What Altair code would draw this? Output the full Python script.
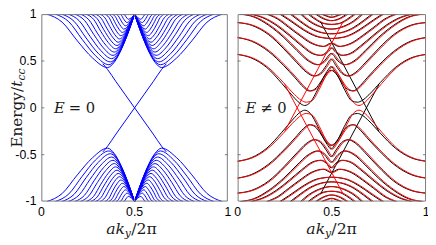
import altair as alt
import pandas as pd

# ---------------- data ----------------
# Left panel (E = 0): bands of the upper-left lobe (the other three lobes are its mirror images)
LB_X = [
    [0.03, 0.111, 0.193, 0.274, 0.355, 0.391, 0.428, 0.464, 0.5],
    [0.075, 0.147, 0.219, 0.29, 0.362, 0.397, 0.431, 0.466, 0.5],
    [0.11, 0.175, 0.24, 0.305, 0.37, 0.403, 0.435, 0.468, 0.5],
    [0.145, 0.203, 0.261, 0.319, 0.377, 0.408, 0.439, 0.469, 0.5],
    [0.18, 0.231, 0.282, 0.333, 0.384, 0.413, 0.442, 0.471, 0.5],
    [0.21, 0.255, 0.30, 0.346, 0.391, 0.418, 0.446, 0.473, 0.5],
    [0.24, 0.28, 0.319, 0.359, 0.398, 0.424, 0.449, 0.475, 0.5],
    [0.265, 0.30, 0.335, 0.37, 0.405, 0.429, 0.453, 0.476, 0.5],
    [0.29, 0.321, 0.351, 0.382, 0.412, 0.434, 0.456, 0.478, 0.5],
    [0.315, 0.341, 0.367, 0.393, 0.419, 0.439, 0.46, 0.48, 0.5],
    [0.34, 0.362, 0.383, 0.405, 0.426, 0.445, 0.463, 0.482, 0.5],
    [0.36, 0.379, 0.397, 0.416, 0.434, 0.451, 0.467, 0.484, 0.5],
    [0.38, 0.396, 0.411, 0.427, 0.442, 0.457, 0.471, 0.486, 0.5],
    [0.40, 0.413, 0.425, 0.438, 0.45, 0.463, 0.475, 0.488, 0.5],
    [0.42, 0.43, 0.439, 0.449, 0.458, 0.469, 0.479, 0.49, 0.5],
    [0.44, 0.447, 0.453, 0.46, 0.466, 0.475, 0.483, 0.492, 0.5],
]
LB_E = [
    [1, 0.915, 0.715, 0.533, 0.43, 0.487, 0.618, 0.795, 1],
    [1, 0.919, 0.73, 0.557, 0.46, 0.514, 0.638, 0.806, 1],
    [1, 0.924, 0.745, 0.582, 0.49, 0.541, 0.658, 0.816, 1],
    [1, 0.929, 0.763, 0.611, 0.525, 0.573, 0.682, 0.829, 1],
    [1, 0.934, 0.78, 0.639, 0.56, 0.604, 0.705, 0.842, 1],
    [1, 0.939, 0.798, 0.668, 0.595, 0.636, 0.729, 0.854, 1],
    [1, 0.945, 0.815, 0.697, 0.63, 0.667, 0.752, 0.867, 1],
    [1, 0.95, 0.833, 0.725, 0.665, 0.699, 0.776, 0.879, 1],
    [1, 0.955, 0.85, 0.754, 0.70, 0.73, 0.799, 0.892, 1],
    [1, 0.96, 0.868, 0.783, 0.735, 0.762, 0.822, 0.905, 1],
    [1, 0.966, 0.885, 0.811, 0.77, 0.793, 0.846, 0.917, 1],
    [1, 0.971, 0.903, 0.84, 0.805, 0.825, 0.869, 0.93, 1],
    [1, 0.976, 0.92, 0.869, 0.84, 0.856, 0.893, 0.942, 1],
    [1, 0.981, 0.938, 0.898, 0.875, 0.888, 0.916, 0.955, 1],
    [1, 0.987, 0.955, 0.926, 0.91, 0.919, 0.94, 0.968, 1],
    [1, 0.992, 0.973, 0.955, 0.945, 0.951, 0.963, 0.98, 1],
]
# left panel edge state (the second one is its mirror)
LE_X = [0.33, 0.355, 0.4, 0.45, 0.5, 0.55, 0.6, 0.645, 0.67]
LE_E = [0.47, 0.41, 0.28, 0.14, 0.0, -0.14, -0.28, -0.41, -0.47]

# Right panel (E != 0): black upper bands (lower = E mirror, red = k mirror)
RB_X = [
    [0, 0.075, 0.155, 0.235, 0.295, 0.33, 0.356, 0.386, 0.426, 0.461, 0.496,
     0.531, 0.566, 0.606, 0.636, 0.662, 0.697, 0.757, 0.837, 0.917, 1],
    [0, 0.075, 0.165, 0.245, 0.305, 0.35, 0.38, 0.41, 0.445, 0.475, 0.496,
     0.517, 0.547, 0.582, 0.612, 0.642, 0.687, 0.747, 0.827, 0.917, 1],
    [0, 0.075, 0.165, 0.245, 0.315, 0.365, 0.405, 0.44, 0.47, 0.496,
     0.522, 0.552, 0.587, 0.627, 0.677, 0.747, 0.827, 0.917, 1],
    [0.014, 0.085, 0.165, 0.245, 0.315, 0.375, 0.425, 0.46, 0.496,
     0.532, 0.567, 0.617, 0.677, 0.747, 0.827, 0.907, 0.978],
    [0.07, 0.135, 0.205, 0.275, 0.34, 0.395, 0.44, 0.47, 0.496,
     0.522, 0.552, 0.597, 0.652, 0.717, 0.787, 0.857, 0.922],
    [0.154, 0.21, 0.27, 0.33, 0.39, 0.455, 0.496, 0.537, 0.602, 0.662, 0.722, 0.782, 0.838],
    [0.224, 0.27, 0.32, 0.375, 0.43, 0.496, 0.562, 0.617, 0.672, 0.722, 0.768],
    [0.279, 0.325, 0.375, 0.43, 0.496, 0.562, 0.617, 0.667, 0.713],
    [0.334, 0.375, 0.43, 0.496, 0.562, 0.617, 0.658],
    [0.374, 0.415, 0.455, 0.496, 0.537, 0.577, 0.618],
    [0.414, 0.445, 0.496, 0.547, 0.578],
    [0.444, 0.47, 0.496, 0.522, 0.548],
]
RB_E = [
    [0.57, 0.53, 0.43, 0.26, 0.12, 0.05, 0.025, 0.06, 0.2, 0.34, 0.40,
     0.34, 0.2, 0.075, 0.06, 0.08, 0.14, 0.27, 0.43, 0.53, 0.57],
    [0.75, 0.71, 0.6, 0.45, 0.32, 0.22, 0.18, 0.2, 0.29, 0.39, 0.44,
     0.39, 0.29, 0.2, 0.18, 0.22, 0.32, 0.45, 0.6, 0.71, 0.75],
    [0.91, 0.88, 0.78, 0.63, 0.48, 0.38, 0.34, 0.37, 0.45, 0.52,
     0.45, 0.37, 0.34, 0.38, 0.48, 0.63, 0.78, 0.88, 0.91],
    [1.0, 0.97, 0.88, 0.75, 0.61, 0.5, 0.46, 0.5, 0.58,
     0.5, 0.46, 0.5, 0.61, 0.75, 0.88, 0.97, 1.0],
    [1.0, 0.96, 0.88, 0.77, 0.66, 0.58, 0.56, 0.59, 0.64,
     0.59, 0.56, 0.58, 0.66, 0.77, 0.88, 0.96, 1.0],
    [1.0, 0.95, 0.86, 0.77, 0.69, 0.655, 0.69, 0.655, 0.69, 0.77, 0.86, 0.95, 1.0],
    [1.0, 0.94, 0.87, 0.8, 0.755, 0.74, 0.755, 0.8, 0.87, 0.94, 1.0],
    [1.0, 0.93, 0.86, 0.81, 0.79, 0.81, 0.86, 0.93, 1.0],
    [1.0, 0.93, 0.87, 0.84, 0.87, 0.93, 1.0],
    [1.0, 0.94, 0.9, 0.89, 0.9, 0.94, 1.0],
    [1.0, 0.96, 0.93, 0.96, 1.0],
    [1.0, 0.98, 0.965, 0.98, 1.0],
]
# black edge state line (the other lines are its mirrors)
RE_X = [0.44, 0.75]
RE_E = [0.92, -0.25]

X_TICKS = [0, 0.5, 1]
X_LABELS = ["0", "0.5", "1"]
Y_TICKS = [-1, -0.5, 0, 0.5, 1]
Y_LABELS = ["-1", "-0.5", "0", "0.5", "1"]

# ---------------- tables ----------------
left_rows = []
for i, (xs, es) in enumerate(zip(LB_X, LB_E)):
    for x, e in zip(xs, es):
        left_rows += [dict(sid=f"a{i}", x=x, E=e), dict(sid=f"b{i}", x=1 - x, E=e),
                      dict(sid=f"c{i}", x=x, E=-e), dict(sid=f"d{i}", x=1 - x, E=-e)]
for x, e in zip(LE_X, LE_E):
    left_rows += [dict(sid="e0", x=x, E=e), dict(sid="e1", x=1 - x, E=e)]
left_df = pd.DataFrame(left_rows)

black_rows, red_rows = [], []
for i, (xs, es) in enumerate(zip(RB_X + [RE_X], RB_E + [RE_E])):
    for x, e in zip(xs, es):
        black_rows += [dict(sid=f"u{i}", x=x, E=e), dict(sid=f"l{i}", x=x, E=-e)]
        red_rows += [dict(sid=f"u{i}", x=1 - x, E=e), dict(sid=f"l{i}", x=1 - x, E=-e)]
black_df = pd.DataFrame(black_rows)
red_df = pd.DataFrame(red_rows)

xt_df = pd.DataFrame({"v": X_TICKS, "lab": X_LABELS})
yt_df = pd.DataFrame({"v": Y_TICKS, "lab": Y_LABELS})
yin_df = pd.DataFrame({"v": [-0.5, 0, 0.5]})
xin_df = pd.DataFrame({"v": [0.5]})
one = pd.DataFrame({"a": [0]})

# ---------------- layout ----------------
W, H = 392, 191
LW = 190          # left panel width
RX0 = 200         # right panel start
xl = alt.Scale(domain=[0, 1], range=[0, LW])
xr = alt.Scale(domain=[0, 1], range=[RX0, W])
ys = alt.Scale(domain=[-1, 1])
FRAME = "#7a7a7a"
TICKFONT = "Liberation Sans"
SERIF = "DejaVu Serif"


def lines(df, color, xs):
    return alt.Chart(df).mark_line(color=color, strokeWidth=1, interpolate="monotone", clip=True).encode(
        x=alt.X("x:Q", scale=xs, axis=None),
        y=alt.Y("E:Q", scale=ys, axis=None),
        detail="sid:N",
    )


def frame(x0, x1):
    return alt.Chart(one).mark_rect(fillOpacity=0, stroke=FRAME, strokeWidth=1).encode(
        x=alt.value(x0 + 0.5), x2=alt.value(x1 - 0.5), y=alt.value(0.5), y2=alt.value(H - 0.5))


def yticks(x0, x1):
    return alt.Chart(yin_df).mark_rule(color=FRAME, strokeWidth=1).encode(
        y=alt.Y("v:Q", scale=ys, axis=None), x=alt.value(x0), x2=alt.value(x1))


def xticks(xs, y0, y1):
    return alt.Chart(xin_df).mark_rule(color=FRAME, strokeWidth=1).encode(
        x=alt.X("v:Q", scale=xs, axis=None), y=alt.value(y0), y2=alt.value(y1))


def xlabels(xs):
    return alt.Chart(xt_df).mark_text(font=TICKFONT, fontSize=12.5, baseline="alphabetic",
                                      align="center", color="black").encode(
        x=alt.X("v:Q", scale=xs, axis=None), y=alt.value(H + 15), text="lab:N")


def label(txt, x, y, size=16, italic=False, align="left", baseline="alphabetic", angle=0):
    kw = dict(font=SERIF, fontSize=size, align=align, baseline=baseline, color="#1a1a1a")
    if italic:
        kw["fontStyle"] = "italic"
    if angle:
        kw["angle"] = angle
    return alt.Chart(one).mark_text(**kw).encode(x=alt.value(x), y=alt.value(y), text=alt.value(txt))


ylabels = alt.Chart(yt_df).mark_text(font=TICKFONT, fontSize=12.5, align="right", baseline="middle",
                                     color="black").encode(
    y=alt.Y("v:Q", scale=ys, axis=None), x=alt.value(-5), text="lab:N")

layers = [
    lines(left_df, "#0000ff", xl),
    lines(black_df, "#000000", xr),
    lines(red_df, "#ff0000", xr),
    frame(0, LW), frame(RX0, W),
    yticks(0, 3), yticks(LW - 3, LW), yticks(RX0, RX0 + 3), yticks(W - 3, W),
    xticks(xl, 0, 3), xticks(xl, H - 3, H), xticks(xr, 0, 3), xticks(xr, H - 3, H),
    xlabels(xl), xlabels(xr), ylabels,
    # panel annotations
    label("E", 13, H / 2, 15, True, baseline="middle"),
    label("= 0", 28, H / 2, 15, baseline="middle"),
    label("E", 208, H / 2, 15, True, baseline="middle"),
    label("\u2260 0", 223, H / 2, 15, baseline="middle"),
    # x titles
    label("ak", 66, H + 33, 16, True), label("y", 85, H + 36.5, 11, True), label("/2\u03c0", 91.5, H + 33, 16),
    label("ak", 270, H + 33, 16, True), label("y", 289, H + 36.5, 11, True), label("/2\u03c0", 295.5, H + 33, 16),
    # y title (rotated), placed between the -0.5 and 0.5 tick labels
    label("Energy/", -20, 136, 15.5, angle=270),
    label("t", -20, 74, 15.5, True, angle=270),
    label("cc", -16.8, 67.6, 11, True, angle=270),
]

chart = alt.layer(*layers).resolve_scale(x="independent").properties(
    width=W, height=H,
    autosize=alt.AutoSizeParams(type="none"),
    padding={"left": 34, "top": 4, "right": 2, "bottom": 40},
).configure_view(stroke=None)

chart.save("out.html", embed_options={"renderer": "svg", "actions": False})
